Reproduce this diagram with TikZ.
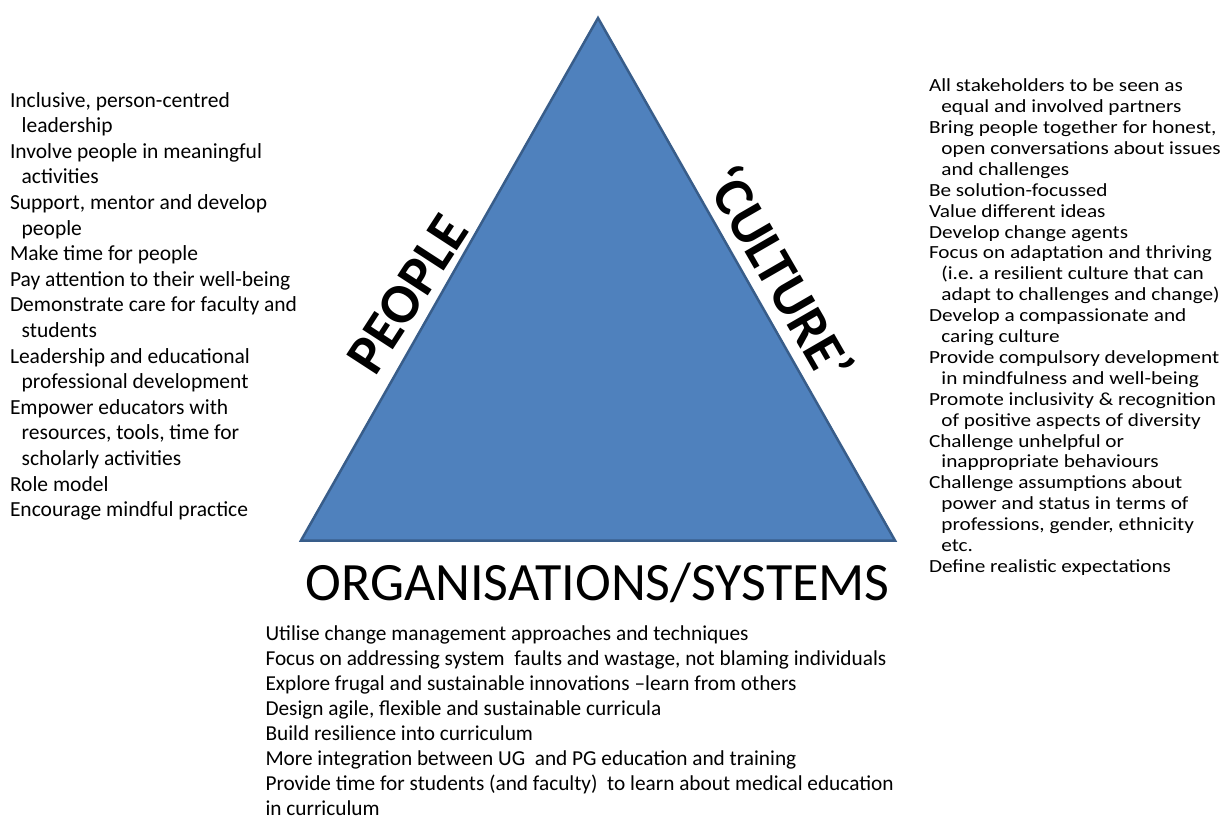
\documentclass[tikz,border=0pt]{standalone}
\usepackage{fontspec}
\setmainfont{Carlito}
\usepackage{graphicx}
\definecolor{triblue}{HTML}{4F81BD}
\definecolor{triedge}{HTML}{385D8A}
\newlength\blhang
\newcommand{\blitem}[1]{\hangindent=\blhang\hangafter=1 #1\par}
\frenchspacing
\begin{document}
\begin{tikzpicture}[x=1pt,y=-1pt,
  bodytext/.style={anchor=base west, inner sep=0pt, outer sep=0pt, text=black},
  sidelabel/.style={anchor=base, inner sep=0pt, outer sep=0pt, text=black, font=\fontsize{56}{62}\selectfont\bfseries},
  tri/.style={fill=triblue, draw=triedge, line width=2.5pt, line join=miter}]
\useasboundingbox (0,0) rectangle (1230,820);

% triangle
\coordinate (apex) at (598,18);
\coordinate (bl) at (301,540.5);
\coordinate (br) at (895,540.5);
\draw[tri] (apex) -- (br) -- (bl) -- cycle;

% side labels
\node[sidelabel, rotate=57] (people) at (423,304) {PEOPLE};
\node[sidelabel, rotate=-60] (culture) at (763,283) {‘CULTURE’};
\node[bodytext, font=\fontsize{54}{60}\selectfont] (org) at (305.5,600) {ORGANISATIONS/SYSTEMS};

% left list
\node[bodytext] (peoplelist) at (10,107) {\parbox[t]{400pt}{\fontsize{21.5}{25.6}\selectfont
\parindent=0pt\parskip=0pt\lineskiplimit=-30pt\setlength\blhang{11.7pt}%
\blitem{Inclusive, person-centred\newline leadership}
\blitem{Involve people in meaningful\newline activities}
\blitem{Support, mentor and develop\newline people}
\blitem{Make time for people}
\blitem{Pay attention to their well-being}
\blitem{Demonstrate care for faculty and\newline students}
\blitem{Leadership and educational\newline professional development}
\blitem{Empower educators with\newline resources, tools, time for\newline scholarly activities}
\blitem{Role model}
\blitem{Encourage mindful practice}}};

% right list
\node[bodytext] (culturelist) at (929,91.7) {\scalebox{1.148}[1]{\parbox[t]{400pt}{\fontsize{18.5}{20.9}\selectfont
\parindent=0pt\parskip=0pt\lineskiplimit=-30pt\setlength\blhang{10.8pt}%
\blitem{All stakeholders to be seen as\newline equal and involved partners}
\blitem{Bring people together for honest,\newline open conversations about issues\newline and challenges}
\blitem{Be solution-focussed}
\blitem{Value different ideas}
\blitem{Develop change agents}
\blitem{Focus on adaptation and thriving\newline (i.e. a resilient culture that can\newline adapt to challenges and change)}
\blitem{Develop a compassionate and\newline caring culture}
\blitem{Provide compulsory development\newline in mindfulness and well-being}
\blitem{Promote inclusivity \& recognition\newline of positive aspects of diversity}
\blitem{Challenge unhelpful or\newline inappropriate behaviours}
\blitem{Challenge assumptions about\newline power and status in terms of\newline professions, gender, ethnicity\newline etc.}
\blitem{Define realistic expectations}}}};

% bottom list
\node[bodytext] (orglist) at (265.5,640.5) {\parbox[t]{700pt}{\fontsize{21.3}{25}\selectfont
\parindent=0pt\parskip=0pt\lineskiplimit=-30pt
Utilise change management approaches and techniques\newline
Focus on addressing system\ \ faults and wastage, not blaming individuals\newline
Explore frugal and sustainable innovations --learn from others\newline
Design agile, flexible and sustainable curricula\newline
Build resilience into curriculum\newline
More integration between UG\ \ and PG education and training\newline
Provide time for students (and faculty)\ \ to learn about medical education\newline
in curriculum\par}};
\end{tikzpicture}
\end{document}
